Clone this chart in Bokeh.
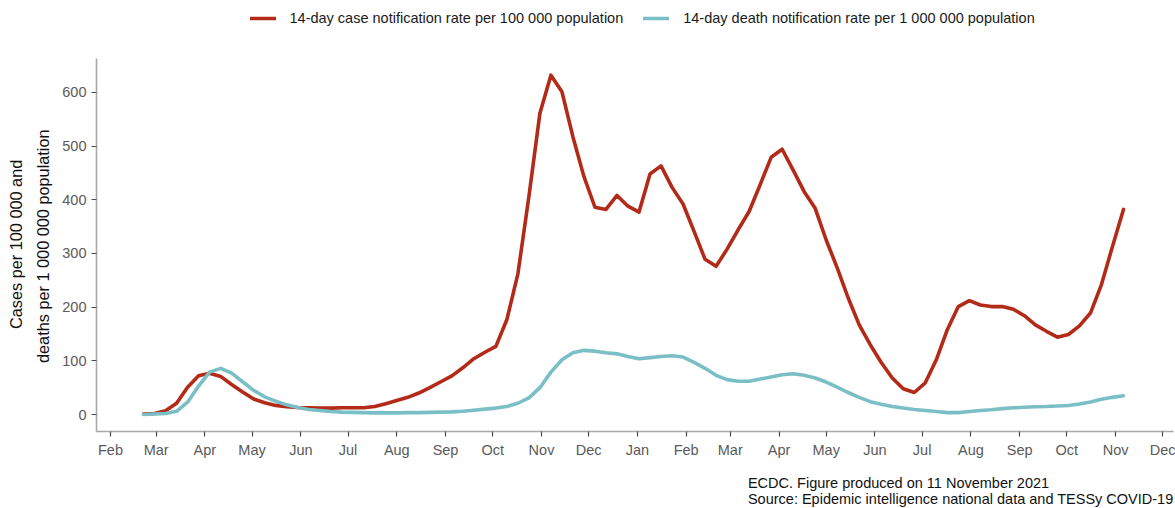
import pandas as pd
from bokeh.plotting import figure
from bokeh.models import (ColumnDataSource, Range1d, FixedTicker, DatetimeTickFormatter,
                          Legend, LegendItem, Title)
from bokeh.embed import file_html
from bokeh.resources import INLINE

# ---------------- data ----------------
first_week = "2020-02-22"
n_weeks = 90
week_dates = pd.date_range(first_week, periods=n_weeks, freq="7D")

case_rate = [
    1, 2, 7, 21, 51, 72, 77, 71, 56, 42,
    29, 22, 17, 14.5, 13, 12.5, 12, 12, 12.5, 12.5,
    12.5, 15, 20, 26, 32, 40, 50, 61, 72, 87,
    104, 116, 127, 177, 262, 406, 561, 632, 601, 517,
    443, 386, 382, 408, 388, 377, 448, 463, 423, 392,
    341, 289, 276, 308, 344, 378, 428, 479, 494, 455,
    415, 384, 325, 273, 217, 167, 130, 97, 68, 48,
    41, 59, 102, 158, 201, 212, 204, 201, 201, 196,
    184, 167, 155, 144, 149, 165, 189, 242, 313, 382,
]
death_rate = [
    0, 1, 2, 6, 23, 53, 79, 86, 77, 61,
    45, 33, 25, 18, 13, 9.5, 7.5, 5.5, 4.5, 4,
    3.5, 3, 3, 3, 3.5, 3.5, 4, 4.5, 5, 6,
    8, 10, 12, 15, 21, 31, 50, 79, 102, 115,
    119.5, 118, 115, 113, 108, 104, 106, 108, 109.5, 107,
    97, 86, 73, 65, 62, 62, 66, 70, 74, 76,
    73, 68, 60.5, 51, 41, 32, 24, 19, 15, 12,
    9.5, 7.5, 5.5, 3.5, 3.5, 5.5, 7.5, 9, 11, 12.5,
    13.5, 14.5, 15, 16, 16.7, 19.5, 23.5, 28.5, 32, 35,
]

series_labels = ["14-day case notification rate per 100 000 population",
                 "14-day death notification rate per 1 000 000 population"]
y_ticks = [0, 100, 200, 300, 400, 500, 600]
month_ticks = pd.date_range("2020-02-01", "2021-12-01", freq="MS")
y_title_lines = ["Cases per 100 000 and", "deaths per 1 000 000 population"]
caption = ("ECDC. Figure produced on 11 November 2021\n"
           "Source: Epidemic intelligence national data and TESSy COVID-19")

# ---------------- style ----------------
RED = "#b32a18"
TEAL = "#7bbfc6"
FONT = "Liberation Sans"

src = ColumnDataSource(dict(date=week_dates, cases=case_rate, deaths=death_rate))

x0 = pd.Timestamp("2020-02-01") - pd.Timedelta(days=8.9)
x1 = pd.Timestamp("2020-02-01") + pd.Timedelta(days=675.8)

p = figure(frame_width=1077, frame_height=431, x_axis_type="datetime",
           x_range=Range1d(x0, x1), y_range=Range1d(-31.6, 771.0),
           output_backend="svg", toolbar_location=None)
p.min_border_left = 96
p.min_border_right = 2
p.min_border_top = 0
p.min_border_bottom = 77
p.outline_line_color = None
p.xgrid.visible = False
p.ygrid.visible = False
p.background_fill_color = "white"
p.border_fill_color = "white"

r1 = p.line(x="date", y="cases", source=src, line_color=RED, line_width=3.6,
            line_join="round", line_cap="round")
r2 = p.line(x="date", y="deaths", source=src, line_color=TEAL, line_width=3.6,
            line_join="round", line_cap="round")

# axes
month_ms = [t.value / 1e6 for t in month_ticks]
p.xaxis.ticker = FixedTicker(ticks=month_ms, minor_ticks=[])
fmt = "%b"
p.xaxis.formatter = DatetimeTickFormatter(
    microseconds=fmt, milliseconds=fmt, seconds=fmt, minsec=fmt, minutes=fmt,
    hourmin=fmt, hours=fmt, days=fmt, months=fmt, years=fmt)
p.yaxis.ticker = FixedTicker(ticks=y_ticks, minor_ticks=[])
p.yaxis.bounds = (-31.6, 663.6)

for ax in (p.xaxis[0], p.yaxis[0]):
    ax.axis_line_color = "#a8a8a8"
    ax.axis_line_width = 1.6
    ax.major_tick_line_color = "#4d4d4d"
    ax.major_tick_line_width = 1.2
    ax.major_tick_out = 5
    ax.major_tick_in = 0
    ax.minor_tick_line_color = None
    ax.major_label_text_font = FONT
    ax.major_label_text_font_size = "14.5px"
    ax.major_label_text_color = "#5a5a5a"
    ax.major_label_standoff = 5

# y-axis title: two left-side titles (inner line first); each line is started
# so that it is centred on the axis line
for txt, so, off in zip(reversed(y_title_lines), (15, 0), (68.5, 102.5)):
    p.add_layout(Title(text=txt, align="left", offset=off, standoff=so,
                       text_font=FONT, text_font_size="16.3px", text_font_style="normal",
                       text_color="#111111", text_line_height=0.8), "left")

# legend at the top of the (extended) frame
legend = Legend(items=[LegendItem(label=series_labels[0], renderers=[r1]),
                       LegendItem(label=series_labels[1], renderers=[r2])],
                orientation="horizontal", location=(153.5, 403),
                glyph_width=26, glyph_height=20, label_height=20,
                label_standoff=14, spacing=20, padding=0, margin=0,
                label_text_font=FONT, label_text_font_size="14.5px",
                label_text_color="#1a1a1a",
                border_line_alpha=0, background_fill_alpha=0)
p.add_layout(legend)

# caption below the x axis
p.add_layout(Title(text=caption, align="right", standoff=25,
                   text_font=FONT, text_font_size="14.5px",
                   text_font_style="normal", text_color="#111111",
                   text_line_height=0.97), "below")

open("out.html", "w").write(file_html(p, INLINE))
